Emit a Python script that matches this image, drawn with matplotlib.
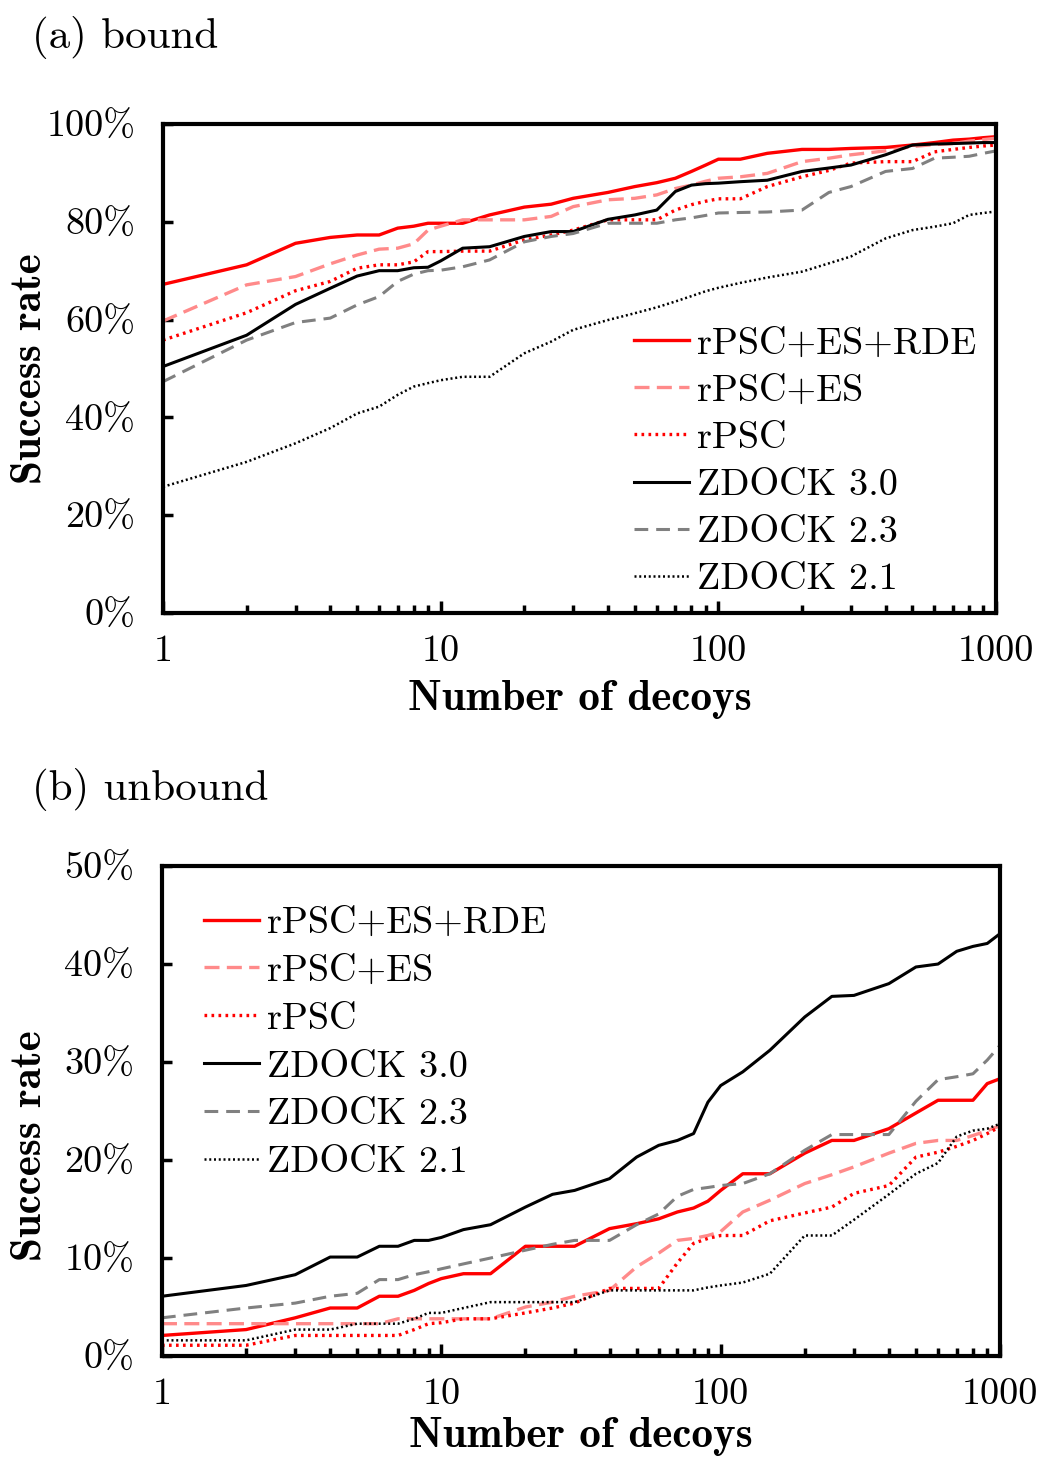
import matplotlib
matplotlib.use("Agg")
import matplotlib.pyplot as plt
from matplotlib.ticker import LogLocator, FixedLocator, NullFormatter

plt.rcParams['font.family'] = ['cmr10', 'DejaVu Sans']
plt.rcParams['axes.formatter.use_mathtext'] = True

decoys = [1, 2, 3, 4, 5, 6, 7, 8, 9, 10, 12, 15, 20, 25, 30, 40, 50, 60, 70, 80, 90,
          100, 120, 150, 200, 250, 300, 400, 500, 600, 700, 800, 900, 1000]

series_names = ["rPSC+ES+RDE", "rPSC+ES", "rPSC", "ZDOCK 3.0", "ZDOCK 2.3", "ZDOCK 2.1"]

# (a) bound
bound_rde = [67.2, 71.2, 75.6, 76.8, 77.3, 77.3, 78.7, 79.1, 79.7, 79.7, 79.7, 81.4, 83.0, 83.6, 84.8, 86.0, 87.2, 88.0, 88.9, 90.3, 91.6,
             92.8, 92.8, 94.0, 94.8, 94.8, 95.0, 95.2, 95.7, 96.2, 96.7, 96.9, 97.2, 97.4]
bound_es = [59.7, 67.1, 68.8, 71.4, 73.2, 74.4, 74.6, 75.5, 78.3, 79.1, 80.4, 80.4, 80.4, 81.1, 83.1, 84.5, 84.8, 85.5, 86.8, 87.5, 88.3,
            88.9, 89.2, 89.9, 92.3, 93.0, 93.7, 94.5, 95.4, 95.8, 96.0, 96.5, 96.8, 97.1]
bound_rpsc = [55.8, 61.4, 65.9, 67.8, 70.5, 71.2, 71.2, 71.8, 73.9, 73.9, 74.0, 74.0, 76.3, 77.3, 78.3, 80.4, 80.4, 80.4, 82.4, 83.5, 84.2,
              84.7, 84.7, 87.2, 89.2, 90.5, 92.0, 92.3, 92.3, 94.3, 94.8, 95.2, 95.5, 95.7]
bound_z30 = [50.4, 56.8, 63.1, 66.4, 68.9, 70.0, 70.0, 70.6, 70.7, 72.0, 74.6, 74.9, 77.0, 78.0, 78.0, 80.5, 81.4, 82.4, 86.2, 87.5, 87.8,
             87.9, 88.2, 88.5, 90.3, 91.0, 91.6, 93.7, 95.7, 95.9, 96.0, 96.1, 96.2, 96.2]
bound_z23 = [47.3, 55.8, 59.4, 60.3, 63.0, 64.7, 67.8, 69.3, 70.0, 70.1, 70.8, 72.2, 75.9, 77.0, 77.6, 79.7, 79.7, 79.7, 80.4, 80.8, 81.3,
             81.8, 81.9, 82.0, 82.4, 86.0, 87.2, 90.3, 90.9, 93.0, 93.2, 93.4, 94.0, 94.5]
bound_z21 = [25.8, 30.9, 34.7, 37.8, 40.8, 42.2, 44.6, 46.3, 47.0, 47.6, 48.3, 48.3, 53.1, 55.5, 57.9, 59.9, 61.3, 62.5, 63.7, 64.8, 65.8,
             66.5, 67.5, 68.6, 69.8, 71.5, 72.9, 76.6, 78.3, 79.0, 79.7, 81.4, 81.8, 82.1]

# (b) unbound
unbound_rde = [2.1, 2.7, 3.9, 4.9, 4.9, 6.1, 6.1, 6.7, 7.4, 7.9, 8.4, 8.4, 11.2, 11.2, 11.2, 13.0, 13.5, 14.0, 14.7, 15.1, 15.8,
               16.9, 18.6, 18.6, 20.7, 22.0, 22.0, 23.2, 24.8, 26.1, 26.1, 26.1, 27.8, 28.3]
unbound_es = [3.3, 3.3, 3.3, 3.3, 3.3, 3.3, 3.8, 3.8, 3.8, 3.8, 3.8, 3.8, 5.0, 5.5, 6.1, 6.7, 9.1, 10.5, 11.8, 12.0, 12.3,
              12.7, 14.7, 15.9, 17.6, 18.5, 19.3, 20.7, 21.7, 22.0, 22.0, 22.5, 23.0, 23.5]
unbound_rpsc = [1.1, 1.1, 2.1, 2.1, 2.1, 2.1, 2.1, 2.7, 3.3, 3.4, 3.8, 3.8, 4.4, 4.9, 5.4, 6.9, 6.9, 6.9, 9.5, 11.5, 12.0,
                12.3, 12.3, 13.8, 14.6, 15.2, 16.6, 17.4, 20.3, 20.8, 21.4, 22.0, 22.7, 23.4]
unbound_z30 = [6.1, 7.2, 8.3, 10.1, 10.1, 11.2, 11.2, 11.8, 11.8, 12.1, 12.9, 13.4, 15.2, 16.5, 16.9, 18.1, 20.3, 21.5, 22.0, 22.7, 25.9,
               27.6, 29.0, 31.2, 34.6, 36.7, 36.8, 38.0, 39.7, 40.0, 41.3, 41.8, 42.1, 43.1]
unbound_z23 = [3.9, 4.9, 5.4, 6.1, 6.4, 7.8, 7.8, 8.3, 8.6, 8.9, 9.4, 10.0, 10.8, 11.4, 11.8, 11.8, 13.4, 14.5, 16.3, 17.0, 17.2,
               17.4, 17.6, 18.6, 21.0, 22.6, 22.6, 22.6, 26.0, 28.2, 28.5, 28.8, 30.2, 31.7]
unbound_z21 = [1.6, 1.6, 2.7, 2.7, 3.3, 3.3, 3.3, 3.8, 4.4, 4.4, 4.9, 5.5, 5.5, 5.5, 5.5, 6.7, 6.7, 6.7, 6.7, 6.7, 7.0,
               7.2, 7.5, 8.4, 12.3, 12.3, 13.9, 16.5, 18.6, 19.7, 22.4, 23.0, 23.2, 23.7]

x_ticks = [1, 10, 100, 1000]
x_ticklabels = ["1", "10", "100", "1000"]
top_yticks = [0, 20, 40, 60, 80, 100]
bot_yticks = [0, 10, 20, 30, 40, 50]

styles = [
    dict(color="#FF0000", linestyle="-", linewidth=2.4),
    dict(color="#FF8A8A", linestyle=(0, (4.5, 2.2)), linewidth=2.4),
    dict(color="#FF0000", linestyle=(0, (0.8, 1.3)), linewidth=2.4),
    dict(color="#000000", linestyle="-", linewidth=2.2),
    dict(color="#808080", linestyle=(0, (4.5, 2.6)), linewidth=2.2),
    dict(color="#000000", linestyle=(0, (0.8, 1.1)), linewidth=1.8),
]

fig = plt.figure(figsize=(10.43, 14.57), dpi=100)
ax1 = fig.add_axes([0.1563, 0.5793, 0.7987, 0.3356])
ax2 = fig.add_axes([0.1553, 0.0693, 0.8035, 0.3363])

FS = 27.5
FS_BOLD = 31
FS_TITLE = 31


def setup(ax, ydata, yticks, ymax, legend_anchor, lspacing, ylab_xy, xlabpad):
    for name, ys, st in zip(series_names, ydata, styles):
        ax.plot(decoys, ys, label=name, **st)
    ax.set_xscale("log")
    ax.set_xlim(1, 1000)
    ax.set_ylim(0, ymax)
    ax.xaxis.set_major_locator(FixedLocator(x_ticks))
    ax.set_xticklabels(x_ticklabels)
    ax.xaxis.set_minor_locator(LogLocator(base=10, subs=range(2, 10)))
    ax.xaxis.set_minor_formatter(NullFormatter())
    ax.set_yticks(yticks)
    ax.set_yticklabels([f"{v}%" for v in yticks])
    for s in ax.spines.values():
        s.set_linewidth(3)
    ax.tick_params(axis="x", which="major", direction="in", length=9, width=2.5,
                   labelsize=FS, pad=16, top=False)
    ax.tick_params(axis="x", which="minor", direction="in", length=6, width=2.5, top=False)
    ax.tick_params(axis="y", which="major", direction="in", length=7, width=2.5,
                   labelsize=FS, pad=20, right=False)
    ax.set_xlabel("Number of decoys", fontsize=FS_BOLD, family="cmb10", labelpad=xlabpad)
    ax.set_ylabel("Success rate", fontsize=FS_BOLD, family="cmb10")
    ax.yaxis.set_label_coords(*ylab_xy)
    ax.legend(loc="upper left", bbox_to_anchor=legend_anchor, frameon=False,
              fontsize=FS, handlelength=1.45, handletextpad=0.2, labelspacing=lspacing,
              borderaxespad=0, borderpad=0)


setup(ax1, [bound_rde, bound_es, bound_rpsc, bound_z30, bound_z23, bound_z21],
      top_yticks, 100, (0.565, 0.585), 0.35, (-0.1357, 0.5), 8)
setup(ax2, [unbound_rde, unbound_es, unbound_rpsc, unbound_z30, unbound_z23, unbound_z21],
      bot_yticks, 50, (0.05, 0.918), 0.37, (-0.1348, 0.43), 4)

fig.text(0.031, 0.974, "(a) bound", fontsize=FS_TITLE, ha="left", va="center")
fig.text(0.031, 0.4582, "(b) unbound", fontsize=FS_TITLE, ha="left", va="center")

fig.savefig("out.png", dpi=100)
